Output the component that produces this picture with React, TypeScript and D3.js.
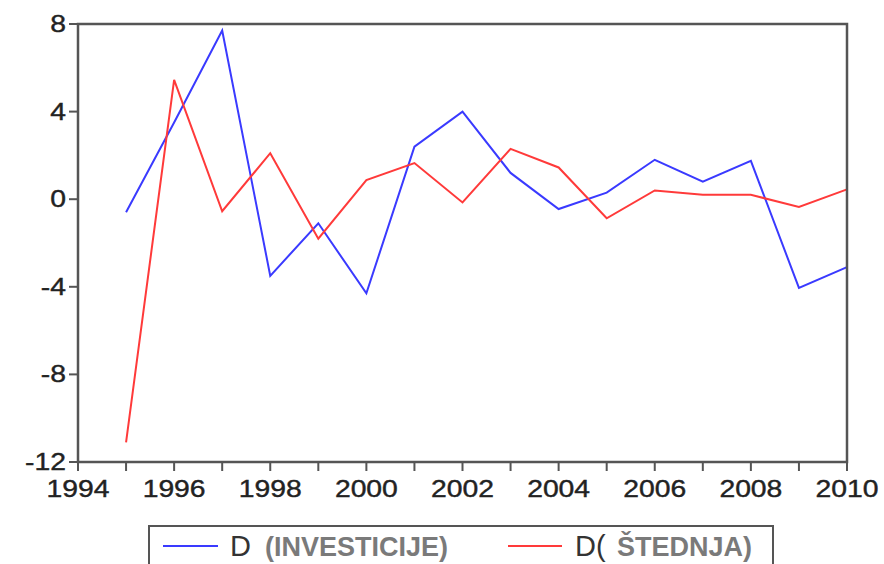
import React from "react";
import * as d3 from "d3";

const years = [1995,1996,1997,1998,1999,2000,2001,2002,2003,2004,2005,2006,2007,2008,2009,2010];
const investicije = [-0.6,3.5,7.7,-3.5,-1.1,-4.3,2.4,4.0,1.2,-0.45,0.3,1.8,0.8,1.75,-4.05,-3.1];
const stednja = [-11.1,5.45,-0.55,2.1,-1.8,0.87,1.65,-0.15,2.3,1.45,-0.87,0.4,0.2,0.2,-0.35,0.45];
const yTicks = [8,4,0,-4,-8,-12];
const xTicks = [1994,1996,1998,2000,2002,2004,2006,2008,2010];
const xMinorTicks = [1995,1997,1999,2001,2003,2005,2007,2009];
const seriesNames = ["D", "(INVESTICIJE)", "D(", "ŠTEDNJA)"];

const W = 884, H = 564;
const L = 78, R = 847, T = 24, B = 462;

export default function App() {
  const x = d3.scaleLinear().domain([1994, 2010]).range([L, R]);
  const y = d3.scaleLinear().domain([-12, 8]).range([B, T]);
  const line = d3.line<number>().x((_, i) => x(years[i])).y((d) => y(d));
  const font = "Liberation Sans, Arial, sans-serif";
  const axisCol = "#555";
  const txt = (xx: number, yy: number, s: string, anchor: string, key: string) => (
    <g key={key} transform={`translate(${xx},${yy}) scale(1.18,1)`}>
      <text textAnchor={anchor} fontSize={24} fontFamily={font} fill="#222" stroke="#222" strokeWidth={0.4}>{s}</text>
    </g>
  );
  return (
    <svg width={W} height={H} style={{ position: "absolute", left: 0, top: 0, background: "#fff" }}>
      <rect x={0} y={0} width={W} height={H} fill="#fff" />
      <path d={line(investicije) || ""} fill="none" stroke="#3a3aff" strokeWidth={2} />
      <path d={line(stednja) || ""} fill="none" stroke="#ff3a3a" strokeWidth={2} />
      <rect x={L} y={T} width={R - L} height={B - T} fill="none" stroke={axisCol} strokeWidth={2.5} />
      {yTicks.map((v) => (
        <g key={"y" + v}>
          <line x1={L - 9} x2={L} y1={y(v)} y2={y(v)} stroke={axisCol} strokeWidth={2} />
          {txt(L - 12, y(v) + 8, String(v), "end", "yt" + v)}
        </g>
      ))}
      {xTicks.map((v) => (
        <g key={"x" + v}>
          <line x1={x(v)} x2={x(v)} y1={B} y2={B + 9} stroke={axisCol} strokeWidth={2} />
          {txt(x(v), B + 35, String(v), "middle", "xt" + v)}
        </g>
      ))}
      {xMinorTicks.map((v) => (
        <line key={"m" + v} x1={x(v)} x2={x(v)} y1={B} y2={B + 9} stroke={axisCol} strokeWidth={2} />
      ))}
      <rect x={149} y={526} width={624} height={50} fill="#fff" stroke={axisCol} strokeWidth={2} />
      <line x1={163} x2={218} y1={546} y2={546} stroke="#3a3aff" strokeWidth={2} />
      <line x1={508} x2={562} y1={546} y2={546} stroke="#ff3a3a" strokeWidth={2} />
      <text x={230} y={556} fontSize={29} fontFamily={font} fill="#333">{seriesNames[0]}</text>
      <text x={265} y={556} fontSize={27} fontWeight="bold" fontFamily={font} fill="#7a7a7a">{seriesNames[1]}</text>
      <text x={575} y={556} fontSize={29} fontFamily={font} fill="#333">{seriesNames[2]}</text>
      <text x={617} y={556} fontSize={27} fontWeight="bold" fontFamily={font} fill="#7a7a7a">{seriesNames[3]}</text>
    </svg>
  );
}
